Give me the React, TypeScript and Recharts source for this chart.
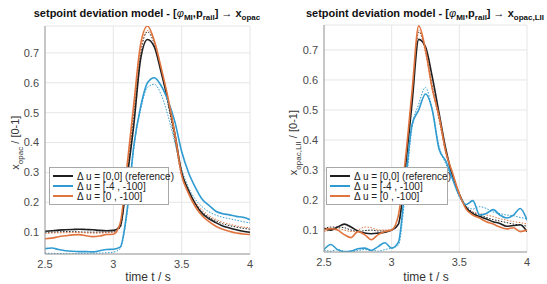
import React from 'react'
import { LineChart, Line, XAxis, YAxis, CartesianGrid } from 'recharts'

// time axis, s (shared by all series)
const time = [
  2.5, 2.55, 2.6, 2.65, 2.7, 2.75, 2.8, 2.85, 2.9, 2.95, 3.0, 3.05, 3.1, 3.15, 3.2, 3.25,
  3.3, 3.35, 3.4, 3.45, 3.5, 3.55, 3.6, 3.65, 3.7, 3.75, 3.8, 3.85, 3.9, 3.95, 4.0,
]

const xTicks = [2.5, 3, 3.5, 4]
const yTicks = [0.1, 0.2, 0.3, 0.4, 0.5, 0.6, 0.7]

const legendLabels = ['\u0394 u = [0,0] (reference)', '\u0394 u = [-4 , -100]', '\u0394 u = [0 , -100]']

// left panel: x_opac (solid = measured, dotted = model)
const leftRef = [0.103, 0.105, 0.107, 0.108, 0.109, 0.11, 0.109, 0.108, 0.106, 0.105, 0.106, 0.12, 0.28, 0.46, 0.68, 0.745, 0.72, 0.635, 0.54, 0.43, 0.3, 0.24, 0.195, 0.163, 0.145, 0.132, 0.121, 0.114, 0.108, 0.103, 0.1]
const leftRefModel = [0.1, 0.1, 0.101, 0.102, 0.102, 0.101, 0.1, 0.1, 0.1, 0.1, 0.101, 0.115, 0.29, 0.5, 0.7, 0.77, 0.73, 0.64, 0.53, 0.41, 0.29, 0.235, 0.195, 0.168, 0.15, 0.138, 0.128, 0.122, 0.117, 0.113, 0.11]
const leftA = [0.045, 0.047, 0.042, 0.038, 0.036, 0.035, 0.035, 0.034, 0.038, 0.042, 0.043, 0.05, 0.17, 0.39, 0.52, 0.6, 0.617, 0.59, 0.54, 0.47, 0.37, 0.3, 0.25, 0.21, 0.19, 0.17, 0.162, 0.158, 0.153, 0.15, 0.142]
const leftAModel = [0.03, 0.029, 0.029, 0.028, 0.028, 0.029, 0.029, 0.03, 0.03, 0.031, 0.033, 0.045, 0.16, 0.38, 0.51, 0.585, 0.595, 0.56, 0.49, 0.4, 0.31, 0.25, 0.21, 0.185, 0.168, 0.157, 0.15, 0.145, 0.14, 0.135, 0.131]
const leftB = [0.078, 0.08, 0.085, 0.088, 0.091, 0.092, 0.088, 0.085, 0.087, 0.092, 0.093, 0.13, 0.32, 0.53, 0.73, 0.79, 0.74, 0.65, 0.55, 0.43, 0.29, 0.23, 0.185, 0.155, 0.135, 0.12, 0.11, 0.103, 0.097, 0.094, 0.092]
const leftBModel = [0.096, 0.097, 0.098, 0.098, 0.099, 0.099, 0.098, 0.097, 0.097, 0.098, 0.099, 0.12, 0.3, 0.51, 0.71, 0.775, 0.74, 0.65, 0.54, 0.42, 0.29, 0.235, 0.2, 0.175, 0.155, 0.143, 0.133, 0.127, 0.121, 0.117, 0.115]

// right panel: x_opac,LII
const rightRef = [0.105, 0.1, 0.11, 0.12, 0.11, 0.097, 0.09, 0.088, 0.09, 0.093, 0.1, 0.12, 0.3, 0.52, 0.735, 0.71, 0.61, 0.49, 0.37, 0.28, 0.22, 0.175, 0.155, 0.145, 0.137, 0.128, 0.122, 0.113, 0.115, 0.118, 0.095]
const rightRefModel = [0.105, 0.11, 0.11, 0.108, 0.1, 0.095, 0.098, 0.1, 0.097, 0.097, 0.1, 0.12, 0.3, 0.54, 0.76, 0.7, 0.58, 0.47, 0.36, 0.28, 0.22, 0.178, 0.16, 0.15, 0.142, 0.135, 0.13, 0.125, 0.12, 0.117, 0.113]
const rightA = [0.035, 0.052, 0.035, 0.028, 0.03, 0.038, 0.04, 0.032, 0.045, 0.058, 0.04, 0.06, 0.25, 0.45, 0.5, 0.553, 0.5, 0.37, 0.33, 0.27, 0.215, 0.185, 0.198, 0.15, 0.155, 0.168, 0.15, 0.14, 0.15, 0.172, 0.133]
const rightAModel = [0.033, 0.03, 0.035, 0.03, 0.028, 0.032, 0.035, 0.033, 0.03, 0.035, 0.04, 0.05, 0.22, 0.44, 0.52, 0.575, 0.5, 0.38, 0.32, 0.27, 0.21, 0.18, 0.17, 0.178, 0.172, 0.16, 0.155, 0.15, 0.148, 0.142, 0.138]
const rightB = [0.1, 0.105, 0.1, 0.085, 0.075, 0.095, 0.085, 0.068, 0.085, 0.095, 0.1, 0.15, 0.33, 0.56, 0.78, 0.7, 0.57, 0.48, 0.36, 0.29, 0.22, 0.17, 0.15, 0.14, 0.128, 0.12, 0.11, 0.104, 0.108, 0.095, 0.1]
const rightBModel = [0.095, 0.1, 0.105, 0.1, 0.095, 0.1, 0.11, 0.108, 0.1, 0.1, 0.103, 0.12, 0.31, 0.55, 0.765, 0.69, 0.57, 0.47, 0.36, 0.28, 0.22, 0.175, 0.16, 0.155, 0.15, 0.145, 0.138, 0.133, 0.128, 0.125, 0.12]

const BLACK = '#1f1f1f'
const BLUE = '#2f9bd0'
const ORANGE = '#e0743f'
const FONT = '"Liberation Sans", Arial, sans-serif'

function buildRows(series: number[][]) {
  return time.map((t, i) => ({
    t,
    ref: series[0][i],
    refM: series[1][i],
    a: series[2][i],
    aM: series[3][i],
    b: series[4][i],
    bM: series[5][i],
  }))
}

const leftRows = buildRows([leftRef, leftRefModel, leftA, leftAModel, leftB, leftBModel])
const rightRows = buildRows([rightRef, rightRefModel, rightA, rightAModel, rightB, rightBModel])

const tickStyle = { fontSize: 11, fill: '#4a4a4a', fontFamily: FONT }
const frame = { stroke: '#9a9a9a' }

function Panel({ rows, width, margin, yMax }: { rows: any[]; width: number; margin: any; yMax: number }) {
  const domain: [number, number] = [0.027, yMax]
  return (
    <LineChart width={width} height={284} data={rows} margin={margin}>
      <CartesianGrid stroke="#e6e6e6" />
      <XAxis
        dataKey="t"
        type="number"
        domain={[2.5, 4]}
        ticks={xTicks}
        tick={tickStyle}
        tickLine={false}
        tickSize={4}
        axisLine={frame}
        height={20}
        allowDataOverflow
      />
      <XAxis xAxisId="top" orientation="top" dataKey="t" type="number" domain={[2.5, 4]} ticks={xTicks} tick={false} tickLine={false} axisLine={frame} height={0} />
      <YAxis
        type="number"
        domain={domain}
        ticks={yTicks}
        tick={tickStyle}
        tickLine={false}
        tickSize={4}
        axisLine={frame}
        width={30}
        allowDataOverflow
      />
      <YAxis yAxisId="right" orientation="right" type="number" domain={domain} ticks={yTicks} tick={false} tickLine={false} axisLine={frame} width={0} />
      <Line dataKey="refM" type="monotone" stroke={BLACK} strokeWidth={1} strokeDasharray="1.5 1.5" dot={false} isAnimationActive={false} />
      <Line dataKey="aM" type="monotone" stroke={BLUE} strokeWidth={1} strokeDasharray="1.5 1.5" dot={false} isAnimationActive={false} />
      <Line dataKey="bM" type="monotone" stroke={ORANGE} strokeWidth={1} strokeDasharray="1.5 1.5" dot={false} isAnimationActive={false} />
      <Line dataKey="ref" type="monotone" stroke={BLACK} strokeWidth={1.6} dot={false} isAnimationActive={false} />
      <Line dataKey="a" type="monotone" stroke={BLUE} strokeWidth={1.6} dot={false} isAnimationActive={false} />
      <Line dataKey="b" type="monotone" stroke={ORANGE} strokeWidth={1.6} dot={false} isAnimationActive={false} />
    </LineChart>
  )
}

function Legend({ left, top, width }: { left: number; top: number; width: number }) {
  const colors = [BLACK, BLUE, ORANGE]
  return (
    <div
      style={{
        position: 'absolute',
        left,
        top,
        width,
        height: 38,
        background: '#fff',
        border: '1px solid #a8a8a8',
        boxSizing: 'border-box',
        fontFamily: FONT,
        fontSize: 10,
        color: '#222',
      }}
    >
      {legendLabels.map((label, i) => (
        <div key={label} style={{ position: 'absolute', left: 3, top: 3 + i * 10, height: 10, display: 'flex', alignItems: 'center', whiteSpace: 'nowrap' }}>
          <span style={{ display: 'inline-block', width: 20, height: 2, background: colors[i], marginRight: 4 }} />
          <span>{label}</span>
        </div>
      ))}
    </div>
  )
}

function Title({ center, sub }: { center: number; sub: string }) {
  return (
    <div
      style={{
        position: 'absolute',
        left: center - 150,
        width: 300,
        top: 6,
        textAlign: 'center',
        fontFamily: FONT,
        fontWeight: 'bold',
        fontSize: 11,
        color: '#111',
        whiteSpace: 'nowrap',
        lineHeight: '14px',
      }}
    >
      setpoint deviation model - [<i style={{ fontWeight: 'normal' }}>{'\u03c6'}</i>
      <sub style={{ fontSize: 8 }}>MI</sub>,p<sub style={{ fontSize: 8 }}>rail</sub>] {'\u2192'} x
      <sub style={{ fontSize: 8 }}>{sub}</sub>
    </div>
  )
}

function YLabel({ x, sub }: { x: number; sub: string }) {
  return (
    <div
      style={{
        position: 'absolute',
        left: x - 60,
        top: 133,
        width: 120,
        textAlign: 'center',
        transform: 'rotate(-90deg)',
        fontFamily: FONT,
        fontSize: 11,
        color: '#333',
        whiteSpace: 'nowrap',
        lineHeight: '14px',
      }}
    >
      x<sub style={{ fontSize: 8 }}>{sub}</sub> / [0-1]
    </div>
  )
}

function XLabel({ center }: { center: number }) {
  return (
    <div
      style={{
        position: 'absolute',
        left: center - 50,
        width: 100,
        top: 270,
        textAlign: 'center',
        fontFamily: FONT,
        fontSize: 12,
        color: '#333',
        lineHeight: '14px',
      }}
    >
      time t / s
    </div>
  )
}

export default function App() {
  return (
    <div style={{ position: 'fixed', left: 0, top: 0, width: 547, height: 284, background: '#fff', overflow: 'hidden' }}>
      <div style={{ position: 'absolute', left: 0, top: 0 }}>
        <Panel rows={leftRows} width={273} margin={{ top: 26, right: 23, bottom: 10, left: 15 }} yMax={0.79} />
      </div>
      <div style={{ position: 'absolute', left: 272, top: 0 }}>
        <Panel rows={rightRows} width={275} margin={{ top: 25, right: 20, bottom: 12, left: 22 }} yMax={0.783} />
      </div>
      <Title center={147} sub="opac" />
      <Title center={425} sub="opac,LII" />
      <YLabel x={18} sub="opac" />
      <YLabel x={296} sub="opac,LII" />
      <XLabel center={148} />
      <XLabel center={426} />
      <Legend left={49} top={167} width={120} />
      <Legend left={326} top={167} width={122} />
    </div>
  )
}
